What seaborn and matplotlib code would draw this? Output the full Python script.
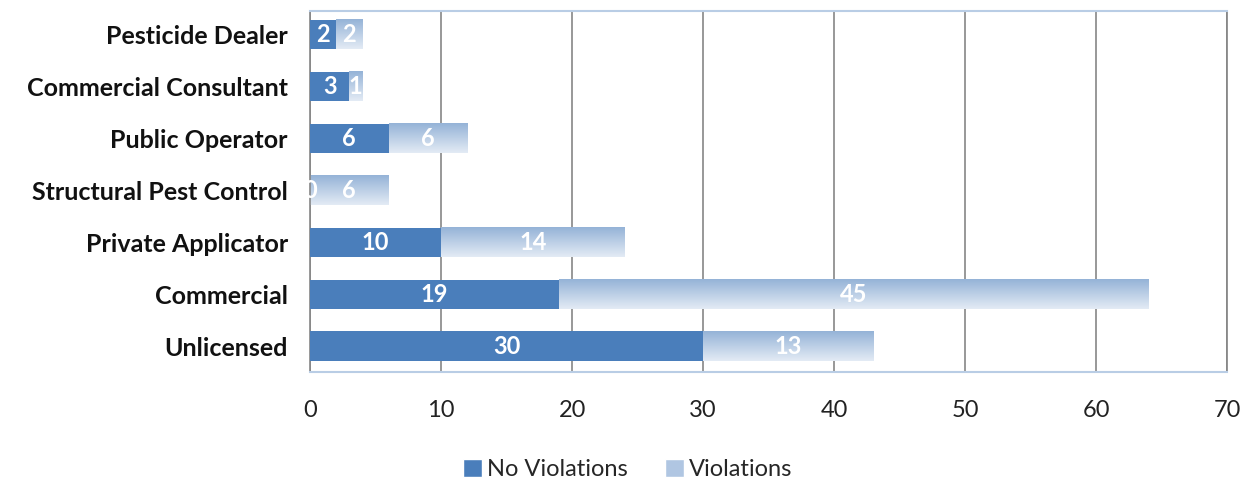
import numpy as np
import pandas as pd
import matplotlib
matplotlib.use("Agg")
import matplotlib.pyplot as plt
from matplotlib.patches import Patch
import seaborn as sns

categories = ["Pesticide Dealer", "Commercial Consultant", "Public Operator",
              "Structural Pest Control", "Private Applicator", "Commercial", "Unlicensed"]
no_violations = [2, 3, 6, 0, 10, 19, 30]
violations = [2, 1, 6, 6, 14, 45, 13]
x_ticks = [0, 10, 20, 30, 40, 50, 60, 70]

dark_blue = "#4a7ebb"
grad_top = "#95b3d7"
grad_bottom = "#e3ebf5"

sns.set_theme(style="white")
plt.rcParams["font.family"] = ["Lato", "DejaVu Sans"]

df = pd.DataFrame({"category": categories,
                   "no_viol": no_violations,
                   "total": np.array(no_violations) + np.array(violations)})

fig, ax = plt.subplots(figsize=(12.55, 4.8), dpi=100)
fig.subplots_adjust(left=0.247, right=0.978, top=0.978, bottom=0.225)

# total bars (violations stacked on top), then the no-violation part
sns.barplot(data=df, y="category", x="total", color=grad_top, width=0.56,
            orient="h", ax=ax, saturation=1, edgecolor="none")
n = len(categories)
sns.barplot(data=df, y="category", x="no_viol", color=dark_blue, width=0.56,
            orient="h", ax=ax, saturation=1, edgecolor="none")

# gradient fill for the violations part
grad = np.linspace(0, 1, 64).reshape(-1, 1)
cmap = matplotlib.colors.LinearSegmentedColormap.from_list("g", [grad_top, grad_bottom])
for i, p in enumerate(ax.patches[:n]):
    x0 = no_violations[i]
    x1 = p.get_x() + p.get_width()
    y0 = p.get_y()
    y1 = y0 + p.get_height()
    p.set_visible(False)
    if x1 > x0:
        ax.imshow(grad, cmap=cmap, aspect="auto", extent=(x0, x1, y1, y0),
                  zorder=2, interpolation="bilinear")

for p in ax.patches[n:]:
    p.set_zorder(3)

# value labels
for i in range(n):
    ax.text(no_violations[i] / 2, i, str(no_violations[i]), ha="center", va="center",
            color="white", fontsize=17, fontweight="bold", zorder=5)
    ax.text(no_violations[i] + violations[i] / 2, i, str(violations[i]), ha="center",
            va="center", color="white", fontsize=17, fontweight="bold", zorder=5)

ax.set_xlim(0, 70)
ax.set_ylim(n - 0.5, -0.46)
ax.set_xticks(x_ticks)
ax.set_xticklabels([str(t) for t in x_ticks], fontsize=17, color="#222222")
ax.tick_params(axis="y", labelsize=18, labelcolor="#111111", pad=16, length=0)
ax.tick_params(axis="x", pad=20, length=0)
for lab in ax.get_yticklabels():
    lab.set_fontweight("bold")
ax.set_xlabel("")
ax.set_ylabel("")

ax.xaxis.grid(True, color="#868686", linewidth=1.2, zorder=0)
ax.set_axisbelow(True)
for side in ["top", "bottom"]:
    ax.spines[side].set_color("#b9cde5")
    ax.spines[side].set_linewidth(1.5)
ax.spines["right"].set_color("#868686")
ax.spines["left"].set_color("#868686")
ax.spines["left"].set_linewidth(1.2)

handles = [Patch(facecolor=dark_blue, label="No Violations"),
           Patch(facecolor="#b0c6e2", label="Violations")]
fig.legend(handles=handles, loc="lower center", ncol=2, frameon=False,
           bbox_to_anchor=(0.5, -0.045), fontsize=17, handlelength=0.8,
           handleheight=0.8, handletextpad=0.2, columnspacing=1.6)

fig.savefig("out.png", dpi=100)
